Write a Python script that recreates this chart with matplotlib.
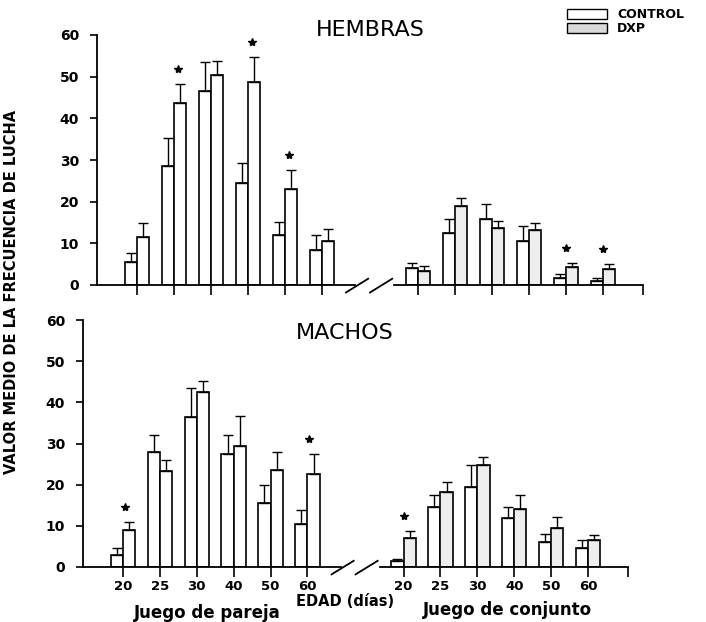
import matplotlib
matplotlib.use("Agg")
from matplotlib import pyplot as plt
from matplotlib.patches import Rectangle
from matplotlib import transforms

# edades (dias)
ages = ['20', '25', '30', '40', '50', '60']

# HEMBRAS - juego de pareja
hem_par_ctrl = [5.6, 28.6, 46.6, 24.5, 11.9, 8.4]
hem_par_ctrl_err = [2.0, 6.8, 7.0, 4.9, 3.3, 3.5]
hem_par_dxp = [11.6, 43.6, 50.3, 48.6, 23.1, 10.6]
hem_par_dxp_err = [3.2, 4.6, 3.5, 6.2, 4.5, 2.9]
# HEMBRAS - juego de conjunto
hem_con_ctrl = [4.0, 12.6, 15.9, 10.6, 1.8, 1.0]
hem_con_ctrl_err = [1.4, 3.3, 3.5, 3.6, 0.8, 0.6]
hem_con_dxp = [3.4, 19.0, 13.8, 13.2, 4.4, 3.8]
hem_con_dxp_err = [1.2, 1.8, 1.6, 1.6, 0.8, 1.2]
hem_stars_par = [1, 3, 4]
hem_stars_con = [4, 5]

# MACHOS - juego de pareja
mac_par_ctrl = [2.8, 28.0, 36.5, 27.4, 15.6, 10.5]
mac_par_ctrl_err = [1.7, 4.0, 7.1, 4.6, 4.3, 3.3]
mac_par_dxp = [8.9, 23.4, 42.6, 29.4, 23.5, 22.7]
mac_par_dxp_err = [2.0, 2.6, 2.7, 7.3, 4.5, 4.7]
# MACHOS - juego de conjunto
mac_con_ctrl = [1.5, 14.6, 19.5, 12.0, 6.1, 4.6]
mac_con_ctrl_err = [0.5, 3.0, 5.2, 2.6, 1.8, 1.9]
mac_con_dxp = [7.1, 18.1, 24.7, 14.0, 9.5, 6.5]
mac_con_dxp_err = [1.6, 2.6, 1.9, 3.4, 2.7, 1.2]
mac_stars_par = [0, 5]
mac_stars_con = [0]

legend_labels = ['CONTROL', 'DXP']
legend_faces = ['white', '#d9d9d9']

pos_par = [0, 1, 2, 3, 4, 5]
pos_con = [7.6, 8.6, 9.6, 10.6, 11.6, 12.6]
XMIN, XMAX = -1.08, 13.68
W = 0.33
TICKFONT = dict(family='DejaVu Sans', weight='bold', size=10)
XTICKFONT = dict(family='DejaVu Sans', weight='bold', size=9.5)

fig = plt.figure(figsize=(7.06, 6.22), dpi=100)
ax_top = fig.add_axes([97/706, 1-285/622, 546/706, 250/622])
ax_bot = fig.add_axes([83/706, 1-567/622, 545/706, 247/622])


def bars(ax, pos, ctrl, ctrl_err, dxp, dxp_err, dxp_face):
    xc = [p - W/2 for p in pos]
    xd = [p + W/2 for p in pos]
    ax.bar(xc, ctrl, W, color='white', edgecolor='black', linewidth=1.2, zorder=3)
    ax.bar(xd, dxp, W, color=dxp_face, edgecolor='black', linewidth=1.2, zorder=3)
    ax.errorbar(xc, ctrl, yerr=[[0]*len(ctrl), ctrl_err], fmt='none', ecolor='black',
                elinewidth=1.0, capsize=3.5, capthick=1.0, zorder=4)
    ax.errorbar(xd, dxp, yerr=[[0]*len(dxp), dxp_err], fmt='none', ecolor='black',
                elinewidth=1.0, capsize=3.5, capthick=1.0, zorder=4)


def stars(ax, pos, idx, dxp, dxp_err, dx):
    xs = [pos[i] + dx for i in idx]
    ys = [dxp[i] + dxp_err[i] + 3.6 for i in idx]
    ax.plot(xs, ys, ls='none', marker='*', ms=6, color='black', zorder=5)


def frame(ax, labels):
    ax.set_xlim(XMIN, XMAX)
    ax.set_ylim(0, 60)
    for s in ['top', 'right', 'bottom']:
        ax.spines[s].set_visible(False)
    ax.spines['left'].set_linewidth(1.3)
    ax.set_yticks(range(0, 61, 10))
    ax.set_yticklabels([str(v) for v in range(0, 61, 10)], fontdict=TICKFONT)
    ax.tick_params(axis='y', direction='out', length=5, width=1.2, pad=8)
    ax.set_xticks(pos_par + pos_con + [XMAX])
    if labels:
        ax.set_xticklabels(ages + ages + [''], fontdict=XTICKFONT)
    else:
        ax.set_xticklabels([])
    ax.tick_params(axis='x', direction='out', length=7, width=1.2, pad=2.5)
    # eje x con corte
    tr = transforms.blended_transform_factory(ax.transData, ax.transAxes)
    ax.plot([XMIN, 5.9], [0, 0], color='black', lw=1.3, transform=tr, clip_on=False, zorder=6)
    ax.plot([6.95, XMAX], [0, 0], color='black', lw=1.3, transform=tr, clip_on=False, zorder=6)
    for c in [5.95, 6.6]:
        ax.plot([c - 0.3, c + 0.3], [-0.03, 0.025], color='black', lw=1.3,
                transform=tr, clip_on=False, zorder=6)


bars(ax_top, pos_par, hem_par_ctrl, hem_par_ctrl_err, hem_par_dxp, hem_par_dxp_err, 'white')
bars(ax_top, pos_con, hem_con_ctrl, hem_con_ctrl_err, hem_con_dxp, hem_con_dxp_err, '#eeeeee')
stars(ax_top, pos_par, hem_stars_par, hem_par_dxp, hem_par_dxp_err, 0.12)
stars(ax_top, pos_con, hem_stars_con, hem_con_dxp, hem_con_dxp_err, 0.0)
frame(ax_top, False)

bars(ax_bot, pos_par, mac_par_ctrl, mac_par_ctrl_err, mac_par_dxp, mac_par_dxp_err, 'white')
bars(ax_bot, pos_con, mac_con_ctrl, mac_con_ctrl_err, mac_con_dxp, mac_con_dxp_err, '#eeeeee')
stars(ax_bot, pos_par, mac_stars_par, mac_par_dxp, mac_par_dxp_err, 0.05)
stars(ax_bot, pos_con, mac_stars_con, mac_con_dxp, mac_con_dxp_err, 0.0)
frame(ax_bot, True)

ax_top.text(0.5, 1.02, 'HEMBRAS', transform=ax_top.transAxes, ha='center', va='center',
            fontsize=16, family='DejaVu Sans')
ax_bot.text(0.48, 0.947, 'MACHOS', transform=ax_bot.transAxes, ha='center', va='center',
            fontsize=16, family='DejaVu Sans')

fig.text(12/706, 1-292/622, 'VALOR MEDIO DE LA FRECUENCIA DE LUCHA', rotation=90,
         ha='center', va='center', fontsize=10.5, weight='bold', family='DejaVu Sans')
fig.text(345/706, 1-601/622, 'EDAD (días)', ha='center', va='center', fontsize=10.5,
         weight='bold', family='DejaVu Sans')
fig.text(207/706, 1-613/622, 'Juego de pareja', ha='center', va='center', fontsize=12,
         weight='bold', family='DejaVu Sans')
fig.text(507/706, 1-610/622, 'Juego de conjunto', ha='center', va='center', fontsize=12,
         weight='bold', family='DejaVu Sans')

# leyenda dibujada a mano
for i, (lab, face) in enumerate(zip(legend_labels, legend_faces)):
    top = 9 + i * 14
    fig.add_artist(Rectangle((567/706, 1 - (top + 10)/622), 40/706, 10/622,
                             transform=fig.transFigure, facecolor=face,
                             edgecolor='black', linewidth=1.0))
    fig.text(617/706, 1 - (top + 5)/622, lab, ha='left', va='center',
             fontsize=9, weight='bold', family='DejaVu Sans')

fig.savefig('out.png', dpi=100)
